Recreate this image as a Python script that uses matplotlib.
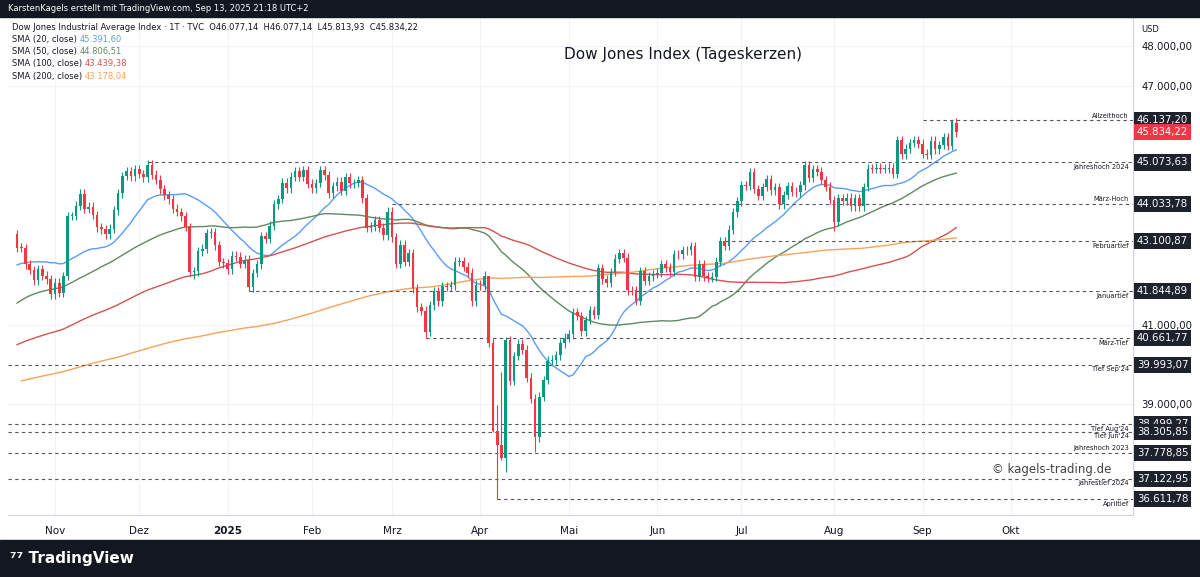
import matplotlib
matplotlib.use('Agg')
import matplotlib.pyplot as plt
import numpy as np
import pandas as pd

# daily closes (approximate), per month
pre_2024 = [
    37715, 37430, 37440, 37466, 37683, 37525, 37711, 37592, 37361, 37266, 37469, 37863, 38001, 37905, 38049, 38109, 37806, 38333, 38467, 38150, 38520,
    38654, 38677, 38380, 38521, 38677, 38726, 38671, 38797, 38273, 38424, 38773, 38628, 38564, 38612, 38563, 39069, 39131, 39069, 38972, 38949,
    39087, 38990, 38585, 38661, 38791, 38722, 38770, 39005, 39043, 38905, 38714, 39110, 39512, 39781, 39475, 39313, 39282, 39760, 39807,
    39567, 39170, 39127, 38596, 38904, 38892, 38883, 38462, 38459, 37735, 37799, 37753, 37775, 37986, 38240, 38503, 38460, 38085, 38239, 38386, 37815,
    37903, 38226, 38675, 38852, 38884, 39056, 39387, 39512, 39432, 39558, 40004, 39869, 40003, 39806, 39872, 39671, 39069, 39065, 38441, 38112, 38686,
    38571, 38711, 38807, 38886, 38798, 38868, 38747, 38712, 38647, 38589, 38778, 38834, 39134, 39127, 39150, 39411, 39112, 39127, 39164,
    39169, 39331, 39308, 39375, 39344, 39291, 39721, 39753, 40211, 40954, 41198, 40665, 40287, 40415, 39853, 39853, 39935, 40539, 40589, 40743, 40842, 40743,
    40347, 39737, 38703, 38997, 38763, 39446, 39497, 39357, 39765, 40009, 40563, 40659, 40896, 40834, 40890, 40712, 41175, 40603, 41250, 41091, 41335, 41563,
    40937, 40974, 40755, 40345, 40736, 40737, 40862, 41096, 41623, 41606, 41504, 41622, 42025, 42063, 42208, 42125, 42175, 41914, 42313, 42330,
    42156, 42196, 42011, 42352, 42080, 42454, 42512, 42864, 43065, 42740, 43077, 43239, 43275,
]
oct24 = [42931, 42924, 42514, 42374, 42114, 42387, 42233, 42142, 41763]
nov24 = [42052, 41794, 42222, 43729, 43729, 43989, 44293, 43911, 43958, 43751, 43445, 43390, 43269, 43408, 43870, 44297, 44736, 44860, 44722, 44911]
dec24 = [44782, 44705, 45014, 44766, 44643, 44401, 44248, 44149, 43914, 43828, 43717, 43450, 42327, 42342, 42840, 42907, 43297, 43326, 42992, 42574, 42544]
jan25 = [42392, 42732, 42706, 42528, 42635, 41938, 42297, 42518, 43221, 43153, 43488, 44025, 44157, 44565, 44424, 44714, 44850, 44713, 44882, 44545]
feb25 = [44421, 44556, 44873, 44747, 44303, 44470, 44593, 44368, 44711, 44546, 44556, 44628, 44177, 43428, 43461, 43621, 43433, 43239, 43841]
mar25 = [43191, 42520, 43006, 42579, 42801, 41911, 41433, 41350, 40813, 41488, 41841, 41581, 41965, 41953, 41985, 42583, 42587, 42455, 42300, 41584, 42002]
apr25 = [41989, 42225, 40546, 38315, 37966, 37646, 40608, 39594, 40213, 40525, 40369, 39669, 39142, 38170, 39187, 39607, 40093, 40114, 40228, 40528, 40669]
may25 = [40753, 41317, 41219, 40829, 41114, 41368, 41249, 42410, 42140, 42051, 42323, 42655, 42792, 42677, 41860, 41859, 41603, 42343, 42098, 42216, 42270]
jun25 = [42305, 42519, 42427, 42320, 42763, 42762, 42867, 42866, 42968, 42197, 42516, 42215, 42172, 42207, 42582, 43089, 42982, 43386, 43819, 44095]
jul25 = [44495, 44484, 44829, 44406, 44241, 44458, 44651, 44371, 44460, 44023, 44254, 44484, 44342, 44323, 44502, 45010, 44694, 44902, 44838, 44633, 44461, 44131]
aug25 = [43589, 44174, 44112, 44193, 43969, 44176, 43975, 44459, 44922, 44911, 44946, 44912, 44922, 44938, 44786, 45632, 45282, 45418, 45565, 45637, 45545]
sep25 = [45296, 45271, 45621, 45401, 45515, 45711, 45490, 46108, 45834.22]

month_data = [('2024-10-21', '2024-10-31', oct24), ('2024-11-01', '2024-11-30', nov24),
              ('2024-12-01', '2024-12-31', dec24), ('2025-01-01', '2025-01-31', jan25),
              ('2025-02-01', '2025-02-28', feb25), ('2025-03-01', '2025-03-31', mar25),
              ('2025-04-01', '2025-04-30', apr25), ('2025-05-01', '2025-05-31', may25),
              ('2025-06-01', '2025-06-30', jun25), ('2025-07-01', '2025-07-31', jul25),
              ('2025-08-01', '2025-08-31', aug25), ('2025-09-01', '2025-09-12', sep25)]
holidays = ['2024-11-28', '2024-12-25', '2025-01-01', '2025-01-09', '2025-01-20', '2025-02-17',
            '2025-04-18', '2025-05-26', '2025-06-19', '2025-07-04', '2025-09-01']

# wick overrides (high, low)
wick_high = {'2025-04-07': 38983, '2025-04-08': 39800, '2025-04-09': 40680, '2025-04-03': 41900, '2025-09-11': 46137}
wick_low = {'2025-04-07': 36612, '2025-04-04': 38300, '2025-04-08': 37600, '2025-04-09': 37300, '2025-04-21': 37800,
            '2025-01-10': 41845, '2025-03-13': 40662, '2025-08-01': 43340, '2024-12-19': 42150}

levels = [(46137.20, 'Allzeithoch', '2025-09-02', 'above'), (45073.63, 'Jahreshoch 2024', '2024-12-04', 'below'),
          (44033.78, 'März-Hoch', '2025-03-03', 'above'), (43100.87, 'Februartief', '2025-06-25', 'below'),
          (41844.89, 'Januartief', '2025-01-10', 'below'), (40661.77, 'März-Tief', '2025-03-13', 'below'),
          (39993.07, 'Tief Sep\'24', None, 'below'), (38499.27, 'Tief Aug\'24', None, 'below'),
          (38305.85, 'Tief Jun\'24', None, 'below'), (37778.85, 'Jahreshoch 2023', None, 'above'),
          (37122.95, 'Jahrestief 2024', None, 'below'), (36611.78, 'Apriltief', '2025-04-07', 'below')]
y_ticks = [39000, 41000, 47000, 48000]
month_ticks = ['2024-11-01', '2024-12-02', '2025-01-02', '2025-02-03', '2025-03-03', '2025-04-01', '2025-05-01',
               '2025-06-02', '2025-07-01', '2025-08-01', '2025-09-02', '2025-10-01']
month_labels = ['Nov', 'Dez', '2025', 'Feb', 'Mrz', 'Apr', 'Mai', 'Jun', 'Jul', 'Aug', 'Sep', 'Okt']

GREEN = '#089981'
RED = '#F23645'


def de(v):
    return f'{v:,.2f}'.replace(',', 'X').replace('.', ',').replace('X', '.')


hol = pd.to_datetime(holidays)
dates, closes = [], []
for start, end, vals in month_data:
    bd = pd.bdate_range(start, end)
    bd = bd[~bd.isin(hol)][:len(vals)]
    dates += list(bd)
    closes += vals[:len(bd)]
dates = pd.DatetimeIndex(dates)
closes = np.array(closes, float)
all_close = pd.Series(np.concatenate([pre_2024, closes]))
npre = len(pre_2024)
sma = {n: all_close.rolling(n).mean().values[npre:] for n in (20, 50, 100, 200)}
opens = np.concatenate([[pre_2024[-1]], closes[:-1]])
opens[-1] = 46077.14

future = pd.bdate_range('2025-09-15', '2025-10-31')
all_dates = dates.append(future)


def idx(d):
    return int(all_dates.searchsorted(pd.Timestamp(d)))


fig = plt.figure(figsize=(12, 5.77), dpi=100)
W, H = 1200, 577
ax = fig.add_axes([8 / W, 1 - 515 / H, (1133 - 8) / W, (515 - 17) / H])
x = np.arange(len(dates))
i_nov = idx('2024-11-01')
ppd = (1011 - 55) / (idx('2025-10-01') - i_nov)
ax.set_xlim(i_nov - 47 / ppd, i_nov + (1133 - 55) / ppd)
ymin = 48000 - (515 - 46) / 39.8 * 1000
ymax = 48000 + (46 - 17) / 39.8 * 1000
ax.set_ylim(ymin, ymax)

for i, d in enumerate(dates):
    o, c = opens[i], closes[i]
    ds = d.strftime('%Y-%m-%d')
    hi = wick_high.get(ds, max(o, c) + 110)
    lo = wick_low.get(ds, min(o, c) - 110)
    col = GREEN if c >= o else RED
    ax.vlines(i, lo, hi, color=col, lw=0.8, zorder=3)
    ax.bar(i, max(abs(c - o), 15), bottom=min(o, c), width=0.62, color=col, zorder=4)

sma_cols = {20: '#5B9CF6', 50: '#5F8A62', 100: '#D25452', 200: '#F7A35C'}
for n, col in sma_cols.items():
    ax.plot(x, sma[n], color=col, lw=1, zorder=2)

xr = ax.get_xlim()[1]
for val, lab, start, pos in levels:
    xs = idx(start) if start else ax.get_xlim()[0]
    ax.hlines(val, xs, xr, colors='#555555', linestyles=(0, (3, 3)), lw=0.8, zorder=2)
    dy = 40 if pos == 'above' else -40
    ax.text(xr - 1, val + dy, lab, ha='right', va='bottom' if pos == 'above' else 'top',
            fontsize=4.8, color='#131722', zorder=5)
    ax.text(1.0035, val, de(val), transform=ax.get_yaxis_transform(), ha='left', va='center',
            fontsize=7.3, color='white', zorder=10, clip_on=False,
            bbox=dict(boxstyle='square,pad=0.3', fc='#1E222D', ec='none'))
ax.text(1.0035, closes[-1], de(closes[-1]), transform=ax.get_yaxis_transform(), ha='left', va='center',
        fontsize=7.3, color='white', zorder=10, clip_on=False,
        bbox=dict(boxstyle='square,pad=0.3', fc=RED, ec='none'))

ax.yaxis.tick_right()
ax.set_yticks(y_ticks)
ax.set_yticklabels([de(v) for v in y_ticks], fontsize=7.3, color='#131722')
ax.set_xticks([idx(d) for d in month_ticks])
ax.set_xticklabels(month_labels, fontsize=7.5, color='#131722')
ax.get_xticklabels()[2].set_fontweight('bold')
ax.tick_params(length=0, pad=8)
ax.tick_params(axis='y', pad=6)
ax.grid(True, color='#F0F3FA', lw=0.8, zorder=0)
for s in ['top', 'left']:
    ax.spines[s].set_visible(False)
ax.spines['right'].set_color('#D1D4DC')
ax.spines['bottom'].set_color('#D1D4DC')

ax.text(0.5997, 0.915, 'Dow Jones Index (Tageskerzen)', transform=ax.transAxes, ha='center', fontsize=11, color='#131722')
ax.text(0.875, 0.085, '© kagels-trading.de', transform=ax.transAxes, ha='left', fontsize=8.5, color='#444444')
fig.text(1141 / W, 1 - 30 / H, 'USD', fontsize=6, color='#131722', va='center')

leg = [('Dow Jones Industrial Average Index · 1T · TVC  O46.077,14  H46.077,14  L45.813,93  C45.834,22', '', '#131722'),
       ('SMA (20, close) ', '45.391,60', sma_cols[20]), ('SMA (50, close) ', '44.806,51', sma_cols[50]),
       ('SMA (100, close) ', '43.439,38', sma_cols[100]), ('SMA (200, close) ', '43.178,04', sma_cols[200])]
for k, (a, b, col) in enumerate(leg):
    yy = 1 - (27 + k * 12.3) / H
    t = fig.text(12 / W, yy, a, fontsize=6, color='#131722', va='center')
    if b:
        fig.canvas.draw()
        bb = t.get_window_extent()
        fig.text(bb.x1 / W, yy, b, fontsize=6, color=col, va='center')

fig.patches.append(plt.Rectangle((0, 1 - 17 / H), 1, 17 / H, transform=fig.transFigure, color='#131722', zorder=0))
fig.patches.append(plt.Rectangle((0, 0), 1, 37 / H, transform=fig.transFigure, color='#131722', zorder=0))
fig.text(8 / W, 1 - 8.5 / H, 'KarstenKagels erstellt mit TradingView.com, Sep 13, 2025 21:18 UTC+2', fontsize=6, color='white', va='center')
fig.text(10 / W, 19 / H, '⁷⁷ TradingView', fontsize=11, color='white', fontweight='bold', va='center')

fig.savefig('out.png', dpi=100, facecolor='white')
